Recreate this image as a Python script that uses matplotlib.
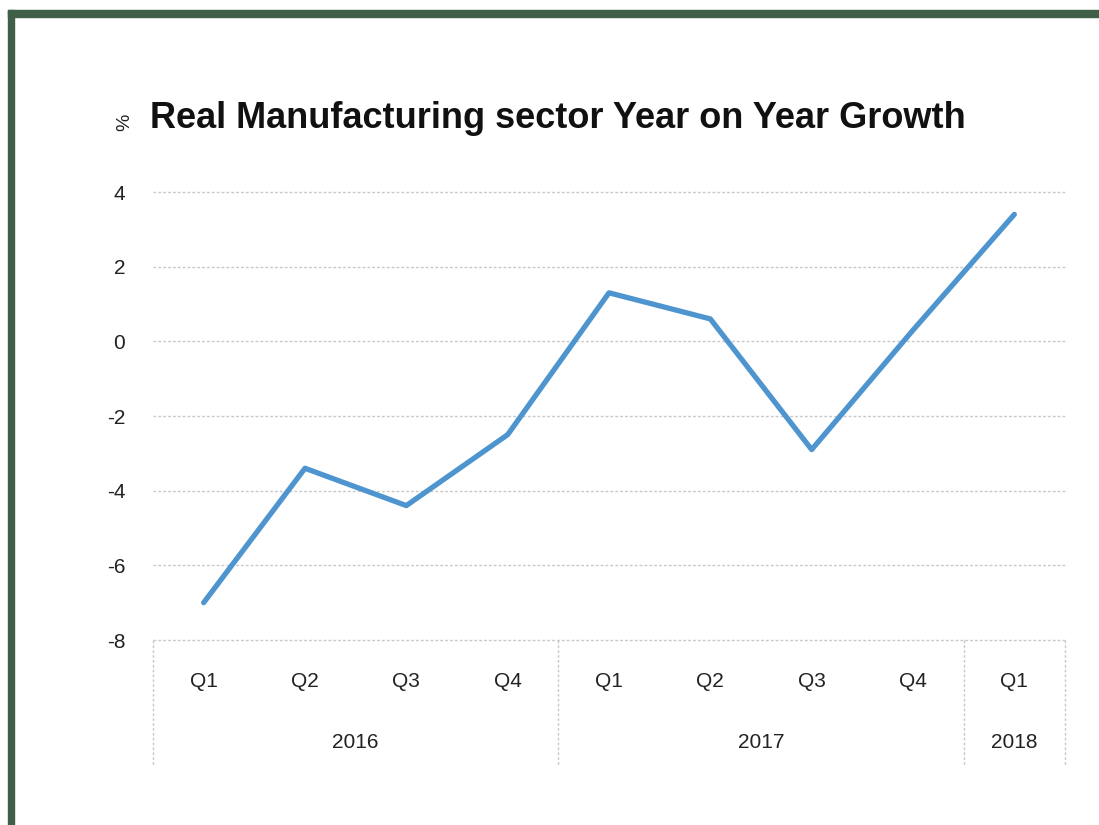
import numpy as np
import matplotlib.pyplot as plt
from matplotlib.patches import Rectangle
from matplotlib.lines import Line2D

quarters = ['Q1', 'Q2', 'Q3', 'Q4', 'Q1', 'Q2', 'Q3', 'Q4', 'Q1']
years = ['2016', '2017', '2018']
quarters_per_year = [4, 4, 1]
growth = [-7.0, -3.4, -4.4, -2.5, 1.3, 0.6, -2.9, 0.3, 3.4]
yticks = [4, 2, 0, -2, -4, -6, -8]

plt.rcParams['font.family'] = ['Liberation Sans', 'DejaVu Sans']

fig = plt.figure(figsize=(10.99, 8.25), dpi=100)
fig.patch.set_facecolor('white')

# green frame on top and left
green = '#3f5f48'
fig.patches.append(Rectangle((8/1099, 0), 6/1099, 1 - 10/825, transform=fig.transFigure,
                             color=green, zorder=10))
fig.patches.append(Rectangle((8/1099, 1 - 17/825), 1, 7/825, transform=fig.transFigure,
                             color=green, zorder=10))

ax = fig.add_axes([153/1099, (825-640)/825, 912/1099, 448/825])
n = len(quarters)
x = np.arange(n)
ax.plot(x, growth, color='#4e95cf', lw=3.8, solid_capstyle='round', solid_joinstyle='round', zorder=3)
ax.set_xlim(-0.5, n - 0.5)
ax.set_ylim(-8, 4)
ax.set_yticks(yticks)
ax.set_yticklabels([str(t) for t in yticks], fontsize=15, color='#222222')
ax.tick_params(axis='y', length=0, pad=20)
ax.set_xticks([])
for s in ax.spines.values():
    s.set_visible(False)
grey = '#c8c8c8'
for t in yticks:
    ax.axhline(t, color=grey, lw=1, ls=(0, (2, 1.5)), zorder=1, clip_on=False)

# two-level category axis
bounds = np.concatenate([[0], np.cumsum(quarters_per_year)]) - 0.5
for b in bounds:
    ax.add_line(Line2D([b, b], [0, -0.28], transform=ax.get_xaxis_transform(), clip_on=False,
                       color=grey, lw=1, ls=(0, (2, 1.5))))
for i, q in enumerate(quarters):
    ax.text(i, -0.092, q, transform=ax.get_xaxis_transform(), ha='center', va='center',
            fontsize=15, color='#222222')
for k, yr in enumerate(years):
    ax.text((bounds[k] + bounds[k+1]) / 2, -0.228, yr, transform=ax.get_xaxis_transform(),
            ha='center', va='center', fontsize=15, color='#222222')

fig.text(125/1099, 1 - 122/825, '%', rotation=90, ha='center', va='center', fontsize=14, color='#222222')
fig.text(150/1099, 1 - 118/825, 'Real Manufacturing sector Year on Year Growth', ha='left', va='center',
         fontsize=26, fontweight='bold', color='#111111')

fig.savefig('out.png', dpi=100, facecolor='white')
